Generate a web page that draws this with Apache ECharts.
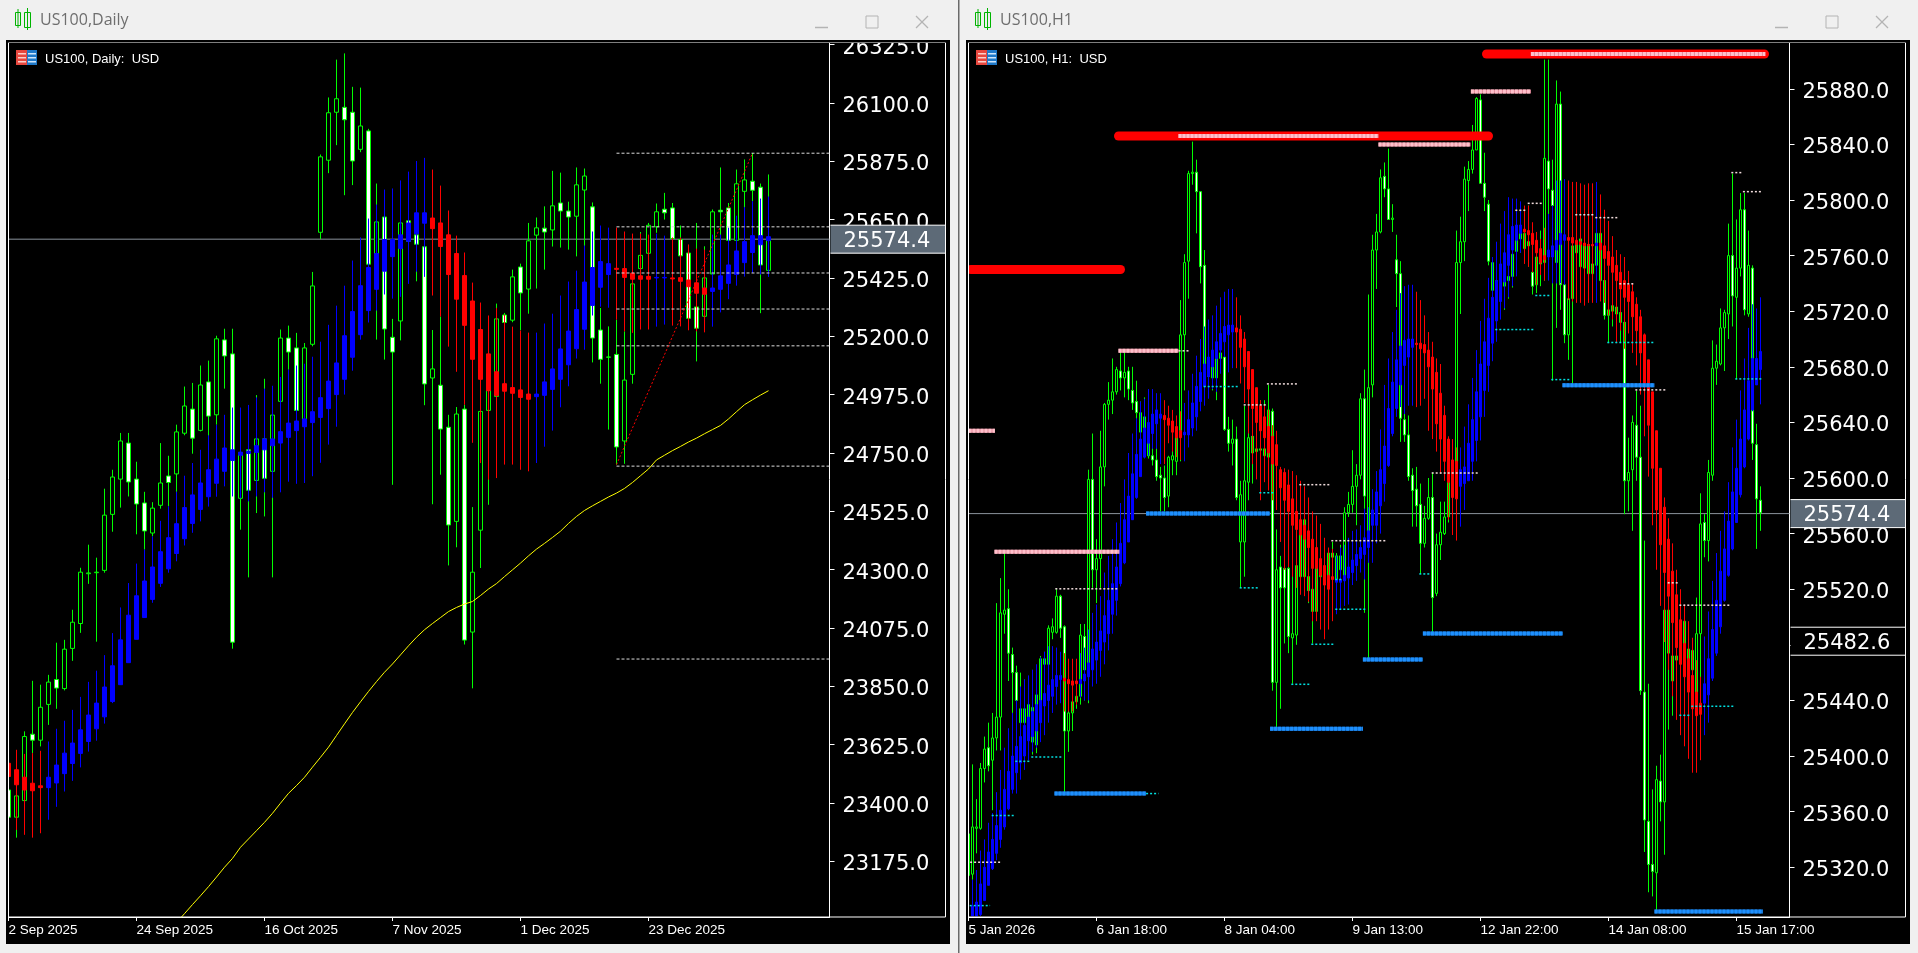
<!DOCTYPE html>
<html><head><meta charset="utf-8"><title>US100</title>
<style>html,body{margin:0;padding:0;background:#f0f0f0;overflow:hidden}#c{width:1918px;height:953px}</style>
<script src="https://cdn.jsdelivr.net/npm/echarts@6/dist/echarts.min.js"></script></head>
<body><div id="c"></div><script>
// Rows are [open, close, low, high]
const dailyPrice=[[23450,23345,23322,23553],[23345,23427,23266,23463],[23409,23656,23386,23676],[23665,23642,23592,23871],[23642,23769,23618,23856],[23780,23866,23701,23894],[23876,23843,23763,24018],[23841,23993,23834,24029],[23996,24097,23948,24145],[24092,24290,24056,24307],[24284,24287,24245,24396],[24288,24290,24022,24346],[24297,24510,24288,24612],[24513,24657,24446,24685],[24649,24796,24539,24827],[24788,24638,24582,24827],[24649,24553,24436,24716],[24557,24449,24377,24600],[24441,24537,24428,24560],[24548,24634,24535,24788],[24661,24636,24544,24739],[24669,24831,24600,24859],[24826,24931,24818,25006],[24919,24807,24747,25020],[24837,25012,24833,25087],[25024,24892,24814,25106],[24897,25190,24859,25202],[25186,25124,24998,25229],[25132,24020,23995,25229],[24575,24750,24454,24814],[24762,24606,24270,24775],[24644,24804,24518,24973],[24804,24652,24505,25036],[24679,24896,24270,24923],[24949,25193,24840,25226],[25193,25139,25071,25241],[25155,24914,24904,25213],[24872,25155,24853,25174],[25169,25394,25161,25448],[25601,25892,25575,25901],[25879,26062,25829,26121],[26064,26116,25937,26267],[26083,26035,25744,26291],[26064,25876,25783,26162],[25921,26011,25910,26159],[25992,25478,25470,26000],[25406,25641,25187,25789],[25660,25228,25110,25676],[25196,25139,24627,25267],[25259,25637,25184,25650],[25645,25566,25406,25663],[25591,25555,25412,25599],[25545,25016,24934,25554],[25039,25074,24552,25224],[25011,24842,24666,25276],[24849,24472,24316,24897],[24486,24900,24386,24927],[24919,24028,24011,24936],[24059,24290,23842,24541],[24452,24910,24306,24930],[24914,24991,24550,25007],[24968,25267,24943,25326],[25282,25253,25226,25290],[25262,25429,25254,25457],[25467,25367,25223,25480],[25382,25568,25287,25637],[25590,25618,25384,25658],[25617,25602,25457,25701],[25610,25703,25546,25838],[25714,25683,25542,25831],[25683,25660,25534,25719],[25663,25784,25508,25851],[25764,25818,25547,25847],[25699,25193,25099,25716],[25224,25111,25017,25309],[25119,25120,24840,25238],[25130,24773,24705,25264],[24796,25031,24708,25219],[25053,25402,25017,25406],[25461,25512,25393,25602],[25520,25628,25483,25637],[25622,25680,25599,25712],[25690,25676,25650,25753],[25695,25577,25534,25714],[25573,25510,25483,25627],[25521,25269,25238,25547],[25313,25231,25103,25637],[25277,25425,25264,25547],[25440,25680,25431,25689],[25686,25680,25431,25851],[25695,25570,25547,25714],[25570,25788,25560,25843],[25759,25803,25695,25882],[25798,25763,25721,25907],[25775,25475,25289,25789],[25454,25574,25451,25824]];
const dailySmooth=[[23553,23502,23450,23579],[23528,23470,23296,23605],[23499,23450,23277,23589],[23476,23447,23266,23592],[23466,23459,23283,23601],[23459,23499,23335,23637],[23477,23546,23385,23686],[23513,23592,23444,23717],[23552,23631,23485,23759],[23591,23682,23537,23809],[23637,23739,23598,23867],[23686,23785,23640,23910],[23732,23847,23706,23970],[23791,23929,23785,24055],[23856,24029,23856,24154],[23941,24124,23941,24248],[24031,24199,24031,24323],[24115,24256,24115,24377],[24185,24310,24172,24428],[24247,24369,24233,24488],[24303,24423,24288,24544],[24362,24477,24332,24600],[24419,24539,24393,24662],[24478,24588,24442,24711],[24532,24634,24486,24762],[24581,24685,24543,24818],[24633,24726,24581,24858],[24679,24769,24621,24897],[24721,24762,24582,24925],[24741,24753,24575,24925],[24748,24757,24563,24935],[24752,24778,24582,24964],[24762,24804,24598,24998],[24778,24804,24577,25009],[24788,24832,24598,25043],[24810,24865,24639,25071],[24836,24873,24631,25087],[24851,24881,24634,25094],[24867,24909,24660,25121],[24887,24963,24712,25179],[24921,25027,24782,25244],[24975,25097,24851,25318],[25034,25202,24975,25395],[25119,25295,25067,25492],[25206,25395,25187,25581],[25299,25465,25253,25654],[25381,25519,25299,25708],[25451,25573,25361,25766],[25507,25573,25345,25770],[25538,25591,25352,25801],[25566,25637,25402,25835],[25595,25676,25449,25876],[25636,25676,25429,25888],[25656,25615,25357,25843],[25637,25546,25276,25781],[25591,25438,25160,25685],[25519,25343,25063,25588],[25434,25242,24936,25523],[25336,25111,24789,25407],[25226,25034,24711,25330],[25132,24990,24647,25280],[25063,24972,24653,25309],[25017,24988,24705,25283],[25002,24980,24705,25237],[24993,24964,24685,25222],[24977,24957,24679,25214],[24967,24977,24711,25214],[24972,25024,24774,25249],[24995,25074,24836,25287],[25034,25151,24926,25357],[25090,25220,25007,25411],[25152,25303,25114,25453],[25227,25409,25148,25550],[25319,25465,25280,25604],[25389,25488,25314,25627],[25438,25480,25310,25619],[25462,25458,25264,25619],[25461,25427,25219,25604],[25443,25420,25213,25596],[25433,25420,25226,25596],[25431,25420,25226,25592],[25425,25427,25237,25596],[25425,25427,25245,25588],[25425,25421,25241,25581],[25426,25412,25238,25581],[25417,25391,25223,25554],[25406,25366,25219,25538],[25386,25362,25215,25534],[25373,25386,25237,25592],[25381,25433,25292,25592],[25404,25475,25343,25619],[25438,25529,25395,25665],[25484,25565,25430,25698],[25523,25588,25444,25721],[25553,25588,25438,25731],[25569,25584,25429,25739]];
const dailyMaStart=21;
const dailyMa=[22938,22973,23008,23042,23077,23114,23152,23186,23229,23261,23293,23325,23360,23399,23437,23467,23499,23538,23576,23615,23660,23705,23749,23790,23830,23868,23904,23936,23971,24006,24039,24068,24092,24115,24138,24154,24167,24177,24200,24225,24246,24273,24299,24325,24353,24379,24401,24424,24448,24478,24505,24528,24546,24563,24580,24595,24613,24636,24662,24688,24723,24741,24759,24775,24792,24807,24824,24840,24856,24881,24909,24936,24955,24973,24990];
const dailyLevels=[25906,25622,25444,25305,25163,24699,23955];
const dailyLevelStart=76;
const dailyTrend=[[76,24705],[93,25906]];
const dailyYTicks=[26325,26100,25875,25650,25425,25200,24975,24750,24525,24300,24075,23850,23625,23400,23175];
const dailyXTicks=[0,16,32,48,64,80];
const dailyXLabels=['2 Sep 2025','24 Sep 2025','16 Oct 2025','7 Nov 2025','1 Dec 2025','23 Dec 2025'];

const h1Price=[[25314,25344,25311,25346],[25315,25349,25311,25394],[25348,25349,25330,25369],[25348,25391,25347,25395],[25391,25405,25381,25414],[25406,25393,25389,25424],[25397,25413,25361,25431],[25413,25428,25404,25510],[25428,25503,25404,25528],[25502,25505,25488,25546],[25506,25474,25454,25520],[25473,25460,25431,25478],[25460,25440,25424,25465],[25424,25434,25415,25460],[25424,25434,25402,25455],[25414,25437,25412,25450],[25410,25435,25401,25462],[25408,25444,25402,25462],[25438,25470,25437,25472],[25466,25470,25452,25475],[25466,25492,25452,25494],[25489,25493,25484,25499],[25489,25515,25488,25520],[25515,25492,25485,25516],[25493,25418,25374,25494],[25418,25431,25403,25438],[25431,25439,25418,25440],[25439,25443,25434,25469],[25443,25487,25437,25495],[25486,25462,25440,25495],[25467,25599,25438,25606],[25599,25534,25521,25632],[25534,25542,25510,25556],[25542,25608,25521,25634],[25608,25653,25594,25654],[25653,25656,25642,25669],[25656,25662,25646,25686],[25662,25678,25660,25680],[25677,25672,25663,25690],[25672,25676,25658,25690],[25677,25664,25656,25680],[25663,25654,25649,25680],[25655,25647,25641,25670],[25633,25647,25632,25655],[25625,25644,25622,25658],[25625,25616,25614,25632],[25616,25613,25609,25634],[25613,25601,25598,25636],[25602,25600,25576,25608],[25600,25586,25576,25609],[25587,25615,25579,25616],[25613,25616,25602,25620],[25612,25630,25602,25634],[25634,25703,25612,25728],[25703,25755,25663,25761],[25756,25819,25729,25821],[25819,25820,25811,25842],[25820,25806,25776,25829],[25806,25752,25740,25806],[25753,25682,25656,25764],[25673,25686,25663,25690],[25672,25680,25663,25690],[25672,25686,25656,25690],[25686,25690,25684,25691],[25687,25635,25634,25691],[25635,25625,25619,25644],[25625,25628,25609,25642],[25628,25586,25584,25637],[25554,25588,25521,25598],[25554,25598,25529,25652],[25597,25629,25584,25638],[25630,25618,25596,25634],[25619,25621,25603,25627],[25620,25621,25603,25656],[25616,25621,25601,25656],[25615,25649,25608,25667],[25648,25453,25447,25650],[25453,25534,25420,25563],[25536,25521,25434,25544],[25535,25521,25481,25543],[25535,25486,25474,25546],[25485,25488,25452,25536],[25487,25537,25480,25558],[25529,25562,25522,25592],[25529,25570,25524,25574],[25529,25519,25510,25562],[25504,25520,25481,25535],[25504,25536,25503,25539],[25529,25534,25527,25539],[25532,25536,25529,25548],[25527,25546,25526,25548],[25543,25546,25524,25554],[25527,25544,25520,25546],[25534,25544,25524,25552],[25529,25575,25527,25579],[25575,25581,25572,25590],[25581,25594,25575,25620],[25594,25602,25566,25610],[25602,25657,25599,25661],[25657,25587,25503,25678],[25560,25665,25470,25732],[25667,25764,25658,25775],[25764,25777,25736,25790],[25777,25816,25776,25822],[25817,25808,25802,25827],[25808,25786,25786,25837],[25786,25787,25777,25797],[25757,25747,25723,25775],[25747,25643,25626,25756],[25642,25631,25626,25667],[25631,25601,25598,25645],[25602,25591,25565,25607],[25592,25580,25565,25608],[25581,25553,25531,25596],[25553,25571,25550,25580],[25571,25586,25570,25600],[25586,25514,25488,25604],[25517,25552,25515,25560],[25552,25561,25541,25583],[25560,25572,25559,25583],[25572,25597,25568,25605],[25597,25606,25592,25618],[25611,25755,25598,25778],[25755,25770,25718,25788],[25770,25815,25756,25824],[25814,25822,25792,25828],[25822,25836,25819,25854],[25836,25873,25836,25874],[25872,25812,25812,25876],[25812,25802,25792,25834],[25797,25756,25753,25800],[25735,25755,25733,25758],[25728,25742,25704,25748],[25728,25752,25726,25754],[25738,25754,25721,25770],[25742,25745,25729,25770],[25745,25761,25737,25781],[25763,25772,25760,25781],[25772,25777,25762,25790],[25765,25776,25756,25786],[25770,25767,25752,25796],[25748,25738,25732,25776],[25739,25759,25733,25776],[25754,25759,25738,25778],[25755,25830,25742,25901],[25828,25808,25754,25901],[25807,25796,25670,25829],[25755,25869,25708,25886],[25869,25739,25721,25878],[25739,25703,25697,25741],[25703,25729,25685,25738],[25729,25767,25668,25769],[25762,25768,25760,25770],[25752,25772,25751,25772],[25751,25768,25750,25769],[25747,25768,25746,25768],[25747,25754,25746,25768],[25753,25776,25752,25777],[25742,25776,25741,25777],[25742,25717,25714,25744],[25717,25721,25697,25724],[25720,25724,25709,25724],[25723,25718,25701,25723],[25719,25712,25697,25720],[25712,25598,25574,25714],[25598,25604,25576,25629],[25606,25640,25562,25645],[25638,25615,25598,25663],[25615,25447,25444,25652],[25446,25354,25331,25555],[25353,25322,25302,25452],[25322,25317,25299,25376],[25316,25383,25289,25393],[25382,25367,25353,25401],[25367,25505,25329,25558],[25474,25505,25419,25515],[25454,25472,25429,25505],[25469,25472,25464,25481],[25472,25493,25464,25503],[25469,25497,25467,25505],[25464,25477,25457,25486],[25462,25476,25452,25485],[25446,25488,25438,25514],[25488,25567,25438,25589],[25568,25555,25543,25574],[25555,25604,25540,25613],[25602,25679,25598,25699],[25679,25684,25667,25696],[25682,25708,25681,25722],[25708,25719,25677,25721],[25718,25760,25700,25783],[25760,25731,25709,25819],[25730,25751,25671,25786],[25751,25793,25745,25805],[25793,25721,25717,25805],[25718,25753,25716,25778],[25751,25625,25613,25753],[25624,25585,25549,25639],[25584,25575,25562,25594]];
const h1Smooth=[null,[25285,25292,25285,25311],[25285,25295,25285,25318],[25286,25308,25285,25332],[25296,25320,25296,25340],[25307,25331,25307,25352],[25319,25340,25318,25359],[25330,25350,25325,25374],[25340,25361,25334,25390],[25349,25376,25347,25406],[25362,25389,25361,25420],[25376,25400,25373,25431],[25388,25407,25373,25440],[25395,25414,25383,25450],[25400,25422,25390,25455],[25411,25428,25397,25458],[25414,25432,25403,25462],[25418,25437,25406,25466],[25424,25440,25410,25471],[25436,25445,25415,25475],[25440,25451,25424,25479],[25443,25455,25431,25479],[25450,25458,25437,25478],[25455,25458,25438,25475],[25456,25454,25432,25474],[25455,25452,25432,25470],[25454,25451,25432,25470],[25454,25452,25437,25470],[25452,25455,25442,25474],[25454,25459,25440,25478],[25457,25467,25440,25491],[25462,25477,25450,25503],[25469,25482,25452,25509],[25476,25490,25457,25515],[25482,25501,25466,25532],[25488,25512,25476,25544],[25502,25524,25488,25556],[25512,25536,25501,25568],[25524,25553,25522,25582],[25539,25570,25538,25599],[25554,25587,25554,25618],[25570,25603,25571,25632],[25586,25617,25585,25643],[25601,25628,25601,25655],[25615,25636,25614,25657],[25625,25640,25616,25664],[25632,25646,25621,25664],[25639,25649,25621,25661],[25643,25646,25610,25661],[25645,25642,25610,25656],[25643,25638,25625,25652],[25641,25633,25619,25649],[25637,25629,25615,25645],[25634,25629,25613,25648],[25631,25633,25612,25654],[25631,25642,25622,25663],[25636,25654,25630,25675],[25644,25666,25634,25688],[25655,25676,25648,25700],[25666,25682,25652,25709],[25673,25687,25657,25714],[25680,25692,25664,25717],[25686,25698,25662,25724],[25692,25704,25675,25730],[25698,25709,25687,25734],[25703,25710,25676,25736],[25705,25710,25679,25736],[25708,25705,25679,25730],[25707,25694,25668,25717],[25700,25680,25654,25705],[25691,25664,25632,25691],[25678,25650,25610,25678],[25665,25640,25599,25665],[25652,25634,25584,25656],[25644,25629,25597,25652],[25637,25618,25591,25649],[25630,25610,25584,25638],[25624,25609,25577,25634],[25606,25593,25554,25608],[25604,25584,25534,25607],[25595,25576,25536,25606],[25585,25566,25529,25605],[25576,25563,25521,25602],[25570,25559,25516,25598],[25566,25556,25515,25594],[25562,25550,25511,25586],[25556,25535,25497,25576],[25550,25535,25497,25573],[25542,25530,25491,25567],[25537,25523,25484,25557],[25530,25520,25491,25550],[25529,25527,25497,25549],[25525,25527,25502,25544],[25525,25527,25505,25550],[25526,25530,25508,25552],[25528,25536,25509,25557],[25532,25541,25523,25562],[25537,25545,25526,25563],[25542,25550,25532,25566],[25545,25557,25527,25578],[25550,25562,25539,25579],[25566,25577,25539,25592],[25566,25590,25553,25605],[25580,25606,25560,25635],[25596,25623,25583,25667],[25609,25650,25608,25686],[25632,25669,25630,25705],[25650,25685,25644,25721],[25667,25695,25651,25733],[25681,25699,25646,25738],[25687,25700,25652,25739],[25694,25700,25652,25739],[25697,25696,25651,25734],[25697,25693,25652,25728],[25696,25690,25657,25717],[25692,25680,25634,25705],[25687,25664,25628,25698],[25676,25639,25619,25686],[25661,25628,25603,25682],[25645,25612,25598,25652],[25628,25597,25570,25630],[25613,25586,25559,25628],[25612,25585,25555,25622],[25594,25606,25565,25622],[25596,25608,25577,25637],[25598,25625,25598,25653],[25612,25642,25598,25672],[25627,25662,25612,25692],[25644,25682,25627,25713],[25663,25698,25644,25729],[25681,25715,25662,25744],[25697,25730,25684,25759],[25713,25742,25698,25770],[25727,25754,25714,25783],[25741,25762,25722,25792],[25753,25775,25730,25802],[25764,25781,25738,25801],[25771,25782,25745,25801],[25776,25782,25762,25799],[25779,25777,25754,25796],[25778,25775,25752,25796],[25776,25768,25748,25784],[25771,25762,25739,25777],[25765,25755,25746,25772],[25760,25757,25742,25780],[25759,25764,25742,25790],[25759,25767,25740,25796],[25764,25771,25740,25814],[25768,25776,25740,25814],[25771,25775,25739,25815],[25773,25771,25728,25814],[25773,25769,25727,25813],[25771,25768,25726,25813],[25770,25768,25726,25812],[25769,25767,25724,25811],[25768,25767,25726,25812],[25768,25767,25726,25812],[25767,25769,25726,25813],[25769,25764,25727,25804],[25767,25758,25726,25793],[25763,25753,25717,25785],[25759,25748,25714,25774],[25753,25742,25697,25764],[25748,25736,25706,25761],[25742,25730,25693,25759],[25739,25727,25704,25749],[25734,25716,25690,25740],[25725,25706,25681,25730],[25716,25690,25660,25721],[25703,25668,25630,25704],[25685,25638,25601,25685],[25662,25607,25566,25662],[25634,25577,25534,25634],[25607,25552,25508,25607],[25579,25532,25482,25586],[25556,25515,25462,25571],[25533,25496,25443,25553],[25516,25478,25426,25534],[25498,25466,25415,25520],[25481,25457,25407,25509],[25470,25446,25398,25497],[25458,25434,25388,25485],[25446,25429,25388,25469],[25438,25430,25397,25457],[25438,25452,25415,25486],[25444,25470,25424,25504],[25456,25491,25454,25526],[25474,25512,25472,25546],[25493,25533,25488,25562],[25512,25549,25511,25576],[25530,25569,25529,25597],[25549,25590,25548,25622],[25568,25607,25568,25642],[25588,25628,25586,25663],[25608,25649,25607,25686],[25628,25670,25627,25708],[25649,25686,25648,25725],[25667,25686,25667,25722],[25678,25691,25653,25730]];
// Indicator levels: [first bar, last bar, price]
const h1RedLevels=[[0.6,38,25750],[37.5,130,25846],[129.5,199,25905]];
const h1PinkLevels=[[52.5,102.5,25846],[102.5,125.5,25840],[0,6.6,25634],[37.5,52.5,25691.5],[6.5,37.7,25547],[125.6,140.6,25878],[140.6,199.2,25905]];
const h1BlueLevels=[[21.5,44.4,25373],[44.4,75.4,25574.5],[75.4,98.6,25419.7],[98.6,113.6,25469.4],[113.6,148.6,25488.1],[148.5,171.5,25666.7],[171.5,198.6,25288.1]];
const h1WhiteDots=[[0.4,8.3,25323.6],[21.7,37.5,25520.3],[52.5,55.4,25691.5],[68.8,74.4,25652.6],[74.6,82.4,25667.7],[82.7,90.4,25595.2],[90.7,104.4,25554.9],[115.8,127.5,25603.6],[136.7,139.4,25792.6],[139.8,143.5,25797.6],[151.7,156.4,25789.4],[156.7,162.5,25787.3],[162.7,166.4,25739.7],[166.7,174.4,25663.4],[190.7,193.4,25819.7],[193.6,198.5,25806],[174.8,177.4,25524.6],[177.7,190.4,25508.5]];
const h1CyanDots=[[0.3,5.4,25292.4],[5.8,11.3,25357.2],[11.7,15.4,25396.2],[15.7,23.3,25399.3],[44.4,47.5,25373],[67.8,72.3,25521],[72.7,76.3,25589.4],[80.7,85.4,25451.6],[85.7,91.4,25480.4],[91.7,99.4,25505.6],[91.7,93.5,25527],[112.7,115.4,25531],[58.8,67.4,25665.8],[131.7,141.4,25706.8],[141.7,145.4,25731.3],[145.7,150.4,25670.8],[159.7,171.4,25697.5],[191.7,198.4,25671.3],[177.7,180.4,25429.3],[180.7,191.4,25435.8]];
const h1YTicks=[25880,25840,25800,25760,25720,25680,25640,25600,25560,25520,25480,25440,25400,25360,25320];
const h1XTicks=[0,32,64,96,128,160,192];
const h1XLabels=['5 Jan 2026','6 Jan 18:00','8 Jan 04:00','9 Jan 13:00','12 Jan 22:00','14 Jan 08:00','15 Jan 17:00'];
const lastPrice=25574.4, h1Stop=25482.6;

const AXIS_FONT='"DejaVu Sans"', SMALL_FONT='"Liberation Sans"';
const chart=echarts.init(document.getElementById('c'),null,{renderer:'canvas'});
function xAxis(grid,max,ticks,labels){return {type:'value',gridIndex:grid,min:0,max:max,position:'bottom',
  axisLine:{show:true,onZero:false,lineStyle:{color:'#fff',width:1}},axisTick:{show:true,length:4,inside:false,customValues:ticks,lineStyle:{color:'#fff'}},
  axisLabel:{show:true,customValues:ticks,color:'#fff',fontFamily:SMALL_FONT,fontSize:13.5,align:'left',margin:6,hideOverlap:false,showMinLabel:true,showMaxLabel:true,
    formatter:v=>labels[ticks.indexOf(v)]||''},splitLine:{show:false}};}
function yAxis(grid,min,max,ticks){return {type:'value',gridIndex:grid,min:min,max:max,position:'right',scale:true,
  axisLine:{show:true,onZero:false,lineStyle:{color:'#fff',width:1}},axisTick:{show:true,length:5,customValues:ticks,lineStyle:{color:'#fff'}},
  axisLabel:{show:true,customValues:ticks,color:'#fff',fontFamily:AXIS_FONT,fontSize:21,margin:13,align:'left',
    rich:{v:{color:'#fff',fontFamily:AXIS_FONT,fontSize:21,padding:[7,0,0,0]}},formatter:v=>'{v|'+v.toFixed(1)+'}',hideOverlap:false},splitLine:{show:false}};}
const candle=(name,g,rows,w,up,dn,upB,dnB,z)=>({name,type:'candlestick',xAxisIndex:g,yAxisIndex:g,barWidth:w,z,animation:false,clip:true,
  data:rows.map((r,i)=>r&&[i,r[0],r[1],r[2],r[3]]).filter(Boolean),encode:{x:0,y:[1,2,3,4]},
  itemStyle:{color:up,color0:dn,borderColor:upB,borderColor0:dnB,borderColorDoji:upB,borderWidth:1}});
const line=(g,pts,color,width,type,z,cap)=>({type:'line',xAxisIndex:g,yAxisIndex:g,data:pts,showSymbol:false,symbol:'none',animation:false,silent:true,z,
  lineStyle:{color,width,type:type||'solid',cap:cap||'butt'}});
const segs=(g,list,color,width,type,z,cap)=>list.map(s=>line(g,[[s[0],s[2]],[s[1],s[2]]],color,width,type,z,cap));

const DX=960;
const series=[
  line(0,[[0,lastPrice],[102.625,lastPrice]],'#8a929b',1,'solid',1),
  line(1,[[0,lastPrice],[205.25,lastPrice]],'#8a929b',1,'solid',1),
  candle('US100 Daily',0,dailyPrice,5,'#000','#fff','#00ff00','#00ff00',2),
  candle('Smoothed Daily',0,dailySmooth,5,'#0000ff','#ff0000','#0000ff','#ff0000',3),
  line(0,dailyMa.map((v,i)=>[dailyMaStart+i,v]),'#ffff00',1,'solid',4),
  ...dailyLevels.map(p=>line(0,[[dailyLevelStart,p],[102.625,p]],'#dcdcdc',1,[3,2],5)),
  line(0,dailyTrend,'#ff0000',1,[2,2],5),
  candle('US100 H1',1,h1Price,3,'#000','#fff','#00ff00','#00ff00',2),
  candle('Smoothed H1',1,h1Smooth,3,'#0000ff','#ff0000','#0000ff','#ff0000',3),
  ...segs(1,h1RedLevels,'#ff0000',9,'solid',5,'round'),
  ...segs(1,h1PinkLevels,'#e58c9c',4,'solid',6),
  ...segs(1,h1PinkLevels,'#ffc0cb',4,[3,1],6),
  ...segs(1,h1BlueLevels,'#1672cc',4,'solid',6),
  ...segs(1,h1BlueLevels,'#1e90ff',4,[3,1],6),
  ...segs(1,h1WhiteDots,'#f0dcdc',1.5,[2,2],6),
  ...segs(1,h1CyanDots,'#00e0e0',1.5,[2,2],6)
];

function windowChrome(dx,title,sub){
  const G=[];
  const rect=(x,y,w,h,fill,z,stroke)=>G.push({type:'rect',silent:true,z:z,shape:{x:x+dx,y,width:w,height:h},style:{fill:fill||'transparent',stroke:stroke||null,lineWidth:1}});
  const seg=(x1,y1,x2,y2,c,w)=>G.push({type:'line',silent:true,z:41,shape:{x1:x1+dx,y1,x2:x2+dx,y2},style:{stroke:c,lineWidth:w||1}});
  const text=(x,y,t,font,fill)=>G.push({type:'text',silent:true,z:42,x:x+dx,y,style:{text:t,font,fill,textVerticalAlign:'middle',textAlign:'left'}});
  rect(6,40,944,904,'#000',-10);
  rect(0,0,958,40,'#f0f0f0',40);       // title bar sits over clipped tick labels
  rect(6,40,944,2.5,'#000',40);
  rect(0,42,6,875,'#f0f0f0',38);
  rect(6,42,2.5,875,'#000',38);        // left margin hides the part of a bar outside the plot
  rect(8.5,42.5,937,874.5,null,39,'#fff');
  rect(958,0,1.5,953,'#6a6a6a',44);
  // candle icon
  rect(15.5,12.5,5,13,null,41,'#00b400'); seg(18,9,18,28,'#00b400');
  rect(24.5,12.5,6,15,null,41,'#00b400'); seg(27.5,8,27.5,30,'#00b400');
  text(40,20,title,'16px "Open Sans"','#6e6e6e');
  seg(815,27.5,828,27.5,'#b4b4b4',1.5);
  rect(866,16,12,12,null,41,'#b4b4b4');
  seg(916,16,928,28,'#b4b4b4',1.2); seg(928,16,916,28,'#b4b4b4',1.2);
  // flag icon
  rect(16,50,11,15,'#e8483f',41); rect(27,50,10,15,'#1e78c8',41);
  for(const y of [53,57,61]){rect(18,y,8,1.5,'#fbd0cc',42);rect(28,y,8,1.5,'#cfe6fa',42);}
  text(45,59,sub,'13px "Liberation Sans"','#fff');
  return G;
}
const baseOption={
  backgroundColor:'#f0f0f0',animation:false,tooltip:{show:false},legend:{show:false},
  grid:[{left:8.5,top:42.5,width:821,height:874.5,show:false},{left:8.5+DX,top:42.5,width:821,height:874.5,show:false}],
  xAxis:[xAxis(0,102.625,dailyXTicks,dailyXLabels),xAxis(1,205.25,h1XTicks,h1XLabels)],
  yAxis:[yAxis(0,22960,26333,dailyYTicks),yAxis(1,25284.2,25913.3,h1YTicks)],
  series,
  graphic:{elements:[...windowChrome(0,'US100,Daily','US100, Daily:  USD'),...windowChrome(DX,'US100,H1','US100, H1:  USD')]}
};
chart.setOption(baseOption);
// Price boxes follow the y scales
function box(grid,price,fill,x,label){
  const y=chart.convertToPixel({yAxisIndex:grid},price);
  return [
   {type:'rect',silent:true,z:30,shape:{x:x,y:y-14,width:114.5,height:28},style:{fill,stroke:null}},
   {type:'line',silent:true,z:31,shape:{x1:x,y1:y-14,x2:x+114.5,y2:y-14},style:{stroke:'#fff',lineWidth:1}},
   {type:'line',silent:true,z:31,shape:{x1:x,y1:y+14,x2:x+114.5,y2:y+14},style:{stroke:'#fff',lineWidth:1}},
   {type:'text',silent:true,z:32,x:x+13,y:y+2,style:{text:label,font:'21px "DejaVu Sans"',fill:'#fff',textVerticalAlign:'middle',textAlign:'left'}}
  ];
}
chart.setOption({graphic:{elements:[...baseOption.graphic.elements,
  ...box(0,lastPrice,'#5d6a77',830.5,lastPrice.toFixed(1)),
  ...box(1,lastPrice,'#5d6a77',830.5+DX,lastPrice.toFixed(1)),
  ...box(1,h1Stop,'#000',830.5+DX,h1Stop.toFixed(1))]}});
</script></body></html>
